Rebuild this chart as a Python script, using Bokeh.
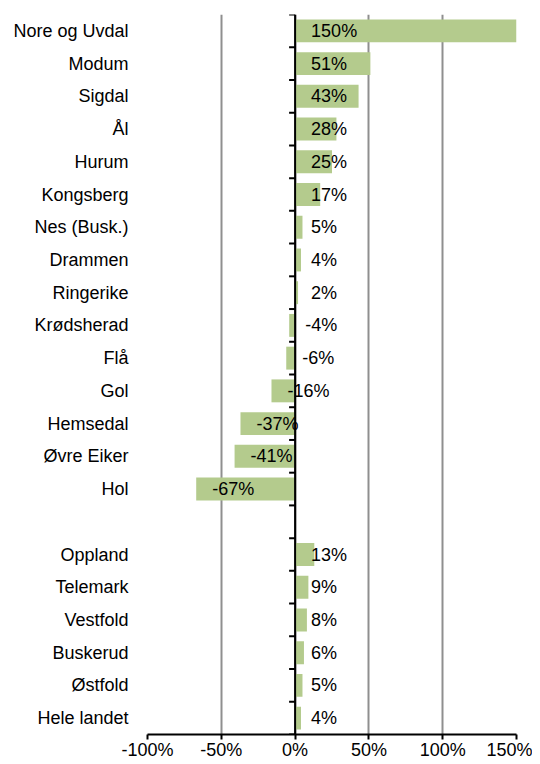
import math
from bokeh.plotting import figure
from bokeh.models import ColumnDataSource, FixedTicker, Span
from bokeh.core.properties import value
from bokeh.embed import file_html
from bokeh.resources import INLINE

# ---- data ----
categories = ["Nore og Uvdal", "Modum", "Sigdal", "Ål", "Hurum", "Kongsberg",
              "Nes (Busk.)", "Drammen", "Ringerike", "Krødsherad", "Flå", "Gol",
              "Hemsedal", "Øvre Eiker", "Hol", "",
              "Oppland", "Telemark", "Vestfold", "Buskerud", "Østfold", "Hele landet"]
values = [150, 51, 43, 28, 25, 17, 5, 4, 2, -4, -6, -16, -37, -41, -67, None,
          13, 9, 8, 6, 5, 4]
x_ticks = [-100, -50, 0, 50, 100, 150]

FONT = "Liberation Sans"
FS = "18px"
n = len(categories)

ys, vs, names, lx, labels = [], [], [], [], []
for i, (c, v) in enumerate(zip(categories, values)):
    if v is None:
        continue
    y = n - 1 - i
    ys.append(y)
    vs.append(v)
    names.append(c)
    lx.append(min(v, 0))
    labels.append(f"{v}%")

src = ColumnDataSource(dict(y=ys, v=vs, lx=lx, label=labels))

p = figure(width=532, height=764, output_backend="svg", toolbar_location=None,
           x_range=(-100, 150), y_range=(-0.5, n - 0.5),
           min_border_left=147, min_border_right=16, min_border_top=14,
           min_border_bottom=30)
p.outline_line_color = None
p.background_fill_color = "white"

# grid
p.ygrid.grid_line_color = None
p.xgrid.ticker = FixedTicker(ticks=x_ticks)
p.xgrid.grid_line_color = "#8f8f8f"
p.xgrid.grid_line_width = 2

# bars
p.hbar(y="y", left=0, right="v", height=0.7, source=src,
       fill_color="#b4cb8d", line_color=None)

# zero axis line with ticks at slot boundaries
p.add_layout(Span(location=0, dimension="height", line_color="black", line_width=2))
bounds = [k - 0.5 for k in range(n + 1)]
p.ray(x=[0] * len(bounds), y=bounds, length=6, length_units="screen",
      angle=math.pi, line_color="black", line_width=2)

# value labels
p.text(x="lx", y="y", text="label", source=src, x_offset=16,
       text_align="left", text_baseline="middle",
       text_font=value(FONT), text_font_size=value(FS), text_color="black")

# x axis
xa = p.xaxis[0]
xa.ticker = FixedTicker(ticks=x_ticks)
xa.major_label_overrides = {t: f"{t}%" for t in x_ticks}
xa.axis_line_color = "black"
xa.axis_line_width = 2
xa.major_tick_line_color = "black"
xa.major_tick_line_width = 2
xa.major_tick_out = 5
xa.major_tick_in = 0
xa.minor_tick_line_color = None
xa.major_label_standoff = 0
xa.major_label_text_font = FONT
xa.major_label_text_font_size = FS
xa.major_label_text_color = "black"

# y axis (category labels)
ya = p.yaxis[0]
ya.ticker = FixedTicker(ticks=ys)
ya.major_label_overrides = {y: c for y, c in zip(ys, names)}
ya.axis_line_color = None
ya.major_tick_line_color = None
ya.minor_tick_line_color = None
ya.major_label_standoff = 13
ya.major_label_text_font = FONT
ya.major_label_text_font_size = FS
ya.major_label_text_color = "black"

open("out.html", "w").write(file_html(p, INLINE))
